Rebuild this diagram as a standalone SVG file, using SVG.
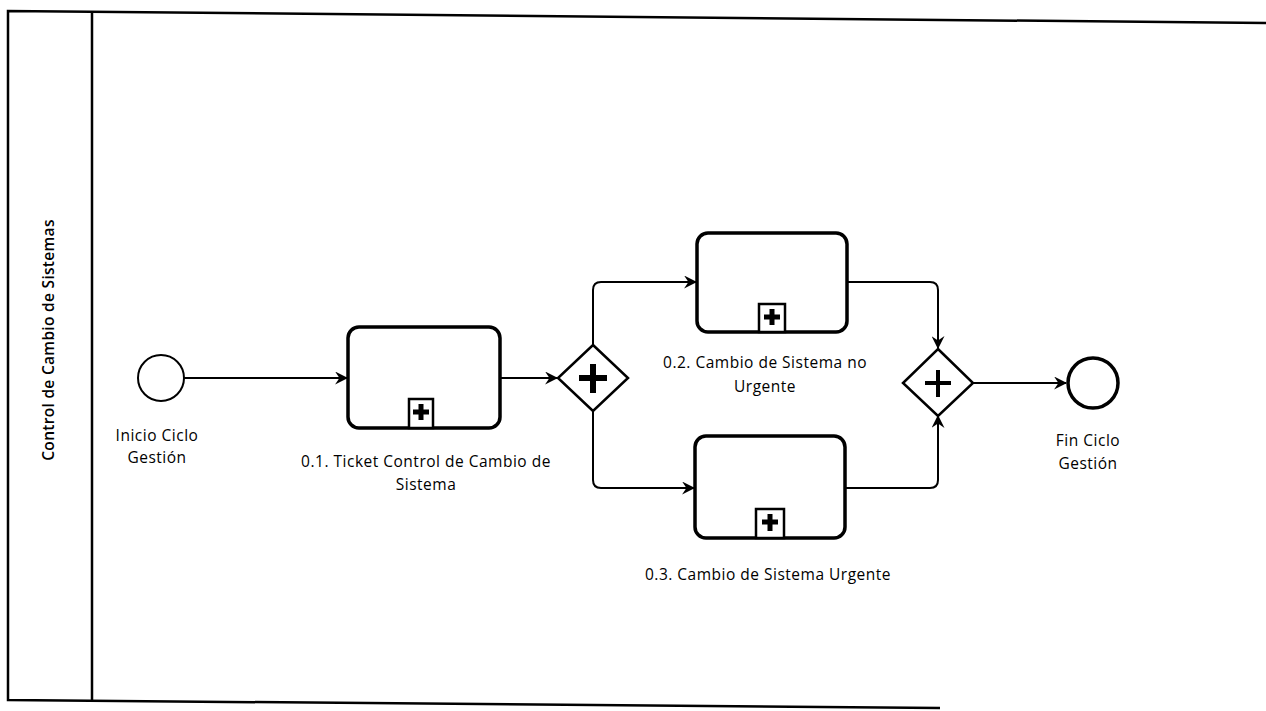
<svg xmlns="http://www.w3.org/2000/svg" width="1266" height="711" viewBox="0 0 1266 711">
<defs>
<style>
.ln{fill:none;stroke:#000;stroke-width:2}
.pool{fill:none;stroke:#000;stroke-width:2.5}
.task{fill:#fff;stroke:#000;stroke-width:3.5}
.mk{fill:#fff;stroke:#000;stroke-width:2.5}
.gw{fill:#fff;stroke:#000;stroke-width:2.5}
.ev{fill:#fff;stroke:#000;stroke-width:2}
.evEnd{fill:#fff;stroke:#000;stroke-width:3.5}
.t{font-family:"Open Sans","Liberation Sans",sans-serif;font-size:15.5px;letter-spacing:0.5px;fill:#000;text-anchor:middle}
.lane{font-family:"Open Sans","Liberation Sans",sans-serif;font-size:15.5px;font-weight:600;letter-spacing:0.3px;fill:#000;text-anchor:middle}
</style>
<marker id="arr" viewBox="0 0 12 12" refX="11" refY="6" markerWidth="13" markerHeight="13" markerUnits="userSpaceOnUse" orient="auto">
<path d="M0,0 L12,6 L0,12 L4,6 Z" fill="#000"/>
</marker>
</defs>
<rect width="1266" height="711" fill="#fff"/>
<g id="pool">
<polyline class="pool" points="1266,23 8,11 8,700 940,708"/>
<line class="pool" x1="92" y1="11" x2="92" y2="701"/>
<text class="lane" transform="translate(54,340) rotate(-90)">Control de Cambio de Sistemas</text>
</g>
<g id="connectors">
<line class="ln" x1="184" y1="378" x2="347" y2="378" marker-end="url(#arr)"/>
<line class="ln" x1="500" y1="378" x2="557" y2="378" marker-end="url(#arr)"/>
<path class="ln" d="M593,345 V290 Q593,282 601,282 H696" marker-end="url(#arr)"/>
<path class="ln" d="M593,411 V480 Q593,488 601,488 H694" marker-end="url(#arr)"/>
<path class="ln" d="M847,282 H930 Q938,282 938,290 V348" marker-end="url(#arr)"/>
<path class="ln" d="M845,488 H930 Q938,488 938,480 V416" marker-end="url(#arr)"/>
<line class="ln" x1="973" y1="383" x2="1066" y2="383" marker-end="url(#arr)"/>
</g>
<g id="start">
<circle class="ev" cx="161" cy="378" r="23"/>
<text class="t" x="157" y="441">Inicio Ciclo</text>
<text class="t" x="157" y="463">Gestión</text>
</g>
<g id="task1">
<rect class="task" x="348" y="327" width="152" height="101" rx="11"/>
<rect class="mk" x="409" y="399" width="24" height="29"/>
<path d="M421,404 V420 M413,412 H429" stroke="#000" stroke-width="5"/>
<text class="t" x="426" y="467">0.1. Ticket Control de Cambio de</text>
<text class="t" x="426" y="490">Sistema</text>
</g>
<g id="gateway1">
<polygon class="gw" points="593,345 628,378 593,411 558,378"/>
<path d="M593,364 V393 M579,378 H607" stroke="#000" stroke-width="6"/>
</g>
<g id="task2">
<rect class="task" x="697" y="233" width="150" height="99" rx="11"/>
<rect class="mk" x="759" y="304" width="26" height="28"/>
<path d="M772,309 V325 M764,317 H780" stroke="#000" stroke-width="5"/>
<text class="t" x="765" y="368">0.2. Cambio de Sistema no</text>
<text class="t" x="765" y="392">Urgente</text>
</g>
<g id="task3">
<rect class="task" x="695" y="436" width="150" height="102" rx="11"/>
<rect class="mk" x="756" y="509" width="28" height="29"/>
<path d="M770,514 V531 M762,522 H778" stroke="#000" stroke-width="5"/>
<text class="t" x="768" y="580">0.3. Cambio de Sistema Urgente</text>
</g>
<g id="gateway2">
<polygon class="gw" points="938,349 973,383 938,416 903,383"/>
<path d="M938,370 V397 M925,383 H951" stroke="#000" stroke-width="4"/>
</g>
<g id="end">
<circle class="evEnd" cx="1093" cy="383" r="25"/>
<text class="t" x="1088" y="446">Fin Ciclo</text>
<text class="t" x="1088" y="469">Gestión</text>
</g>
</svg>
